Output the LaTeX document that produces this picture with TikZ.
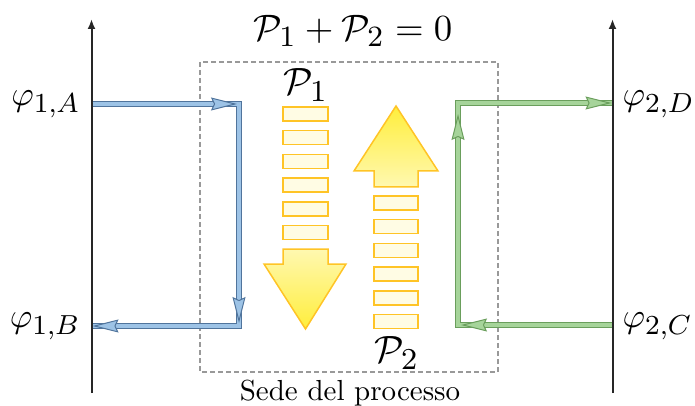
\documentclass[tikz,border=0pt]{standalone}
\usetikzlibrary{arrows.meta}
\DeclareMathSizes{10}{10}{8}{6}
\definecolor{bfill}{HTML}{9DC3E6}
\definecolor{bdark}{HTML}{50749C}
\definecolor{gfill}{HTML}{A6D49A}
\definecolor{gdark}{HTML}{6A9E5C}
\definecolor{yedge}{HTML}{FFC426}
\definecolor{ybar}{HTML}{FFFCE4}
\definecolor{ystrong}{HTML}{FFEE3C}
\definecolor{ylight}{HTML}{FFF8B0}
\begin{document}
\begin{tikzpicture}[x=0.5pt,y=-0.5pt,
  axis/.style={draw=black!85, line width=1pt, -{Latex[length=5pt,width=4pt]}},
  lineblue/.style={draw=bdark, line width=0.5pt, double=bfill, double distance=1.6pt, line join=miter},
  linegreen/.style={draw=gdark, line width=0.5pt, double=gfill, double distance=1.6pt, line join=miter},
  tipblue/.style={draw=bdark, line width=0.5pt, double=bfill, double distance=1.6pt,
    -{Stealth[length=13pt,width=6.5pt,inset=1.5pt,fill=bfill,line width=0.5pt]}},
  tipgreen/.style={draw=gdark, line width=0.5pt, double=gfill, double distance=1.6pt,
    -{Stealth[length=13pt,width=6.5pt,inset=1.5pt,fill=gfill,line width=0.5pt]}},
  bar/.style={draw=yedge, line width=0.75pt, fill=ybar},
  yarrow/.style={draw=yedge, line width=0.75pt, line join=miter},
  lab/.style={inner sep=0pt, scale=1.72},
  plab/.style={inner sep=0pt, scale=1.9}
]
\useasboundingbox (0,0) rectangle (695,406);

% process box
\draw[draw=black!40, line width=0.6pt, dash pattern=on 2.5pt off 1.5pt] (200,62) rectangle (498,372);

% axes
\coordinate (Lbot) at (91.5,393);
\coordinate (Ltop) at (91.5,19);
\coordinate (Rbot) at (612.5,393);
\coordinate (Rtop) at (612.5,19);
\draw[axis] (Lbot) -- (Ltop);
\draw[axis] (Rbot) -- (Rtop);

% blue flow
\coordinate (A1) at (92.5,104);
\coordinate (c1) at (239,104);
\coordinate (c2) at (239,326);
\coordinate (B1) at (92.5,326);
\coordinate (tA) at (205,104);
\coordinate (tAe) at (237,104);
\coordinate (tV) at (239,290);
\coordinate (tVe) at (239,323);
\coordinate (tB) at (125,326);
\draw[lineblue] (A1) -- (c1) -- (c2) -- (B1);
\draw[tipblue] (tA) -- (tAe);
\draw[tipblue] (tV) -- (tVe);
\draw[tipblue] (tB) -- (B1);

% green flow
\coordinate (C2) at (611.5,325);
\coordinate (c3) at (458,325);
\coordinate (c4) at (458,103);
\coordinate (D2) at (611.5,103);
\coordinate (tC) at (495,325);
\coordinate (tCe) at (461,325);
\coordinate (tU) at (458,150);
\coordinate (tUe) at (458,114);
\coordinate (tD) at (575,103);
\draw[linegreen] (C2) -- (c3) -- (c4) -- (D2);
\draw[tipgreen] (tC) -- (tCe);
\draw[tipgreen] (tU) -- (tUe);
\draw[tipgreen] (tD) -- (D2);

% yellow arrow P1 (down)
\foreach \k in {0,...,5} {
  \draw[bar] (283,{107+23.7*\k}) rectangle (328,{121+23.7*\k});
}
\shade[top color=ylight, bottom color=ystrong]
  (283,249) -- (328,249) -- (328,264) -- (346,264) -- (305.5,329) -- (264,264) -- (283,264) -- cycle;
\draw[yarrow]
  (283,249) -- (328,249) -- (328,264) -- (346,264) -- (305.5,329) -- (264,264) -- (283,264) -- cycle;

% yellow arrow P2 (up)
\foreach \k in {0,...,5} {
  \draw[bar] (374,{196+23.7*\k}) rectangle (418,{210+23.7*\k});
}
\shade[top color=ystrong, bottom color=ylight]
  (396,106) -- (438,171) -- (418,171) -- (418,187) -- (374,187) -- (374,171) -- (354,171) -- cycle;
\draw[yarrow]
  (396,106) -- (438,171) -- (418,171) -- (418,187) -- (374,187) -- (374,171) -- (354,171) -- cycle;

% labels
\node[lab, anchor=east] (phiA) at (81,104) {$\varphi_{1,A}$};
\node[lab, anchor=east] (phiB) at (81,326) {$\varphi_{1,B}$};
\node[lab, anchor=west] (phiD) at (622,104) {$\varphi_{2,D}$};
\node[lab, anchor=west] (phiC) at (622,326) {$\varphi_{2,C}$};
\node[plab] (P1) at (306,85) {$\mathcal{P}_1$};
\node[plab] (P2) at (397,353) {$\mathcal{P}_2$};
\node[inner sep=0pt, scale=1.84] (title) at (353,31) {$\mathcal{P}_1+\mathcal{P}_2=0$};
\node[inner sep=0pt, scale=1.45] (sede) at (350,393) {Sede del processo};
\end{tikzpicture}
\end{document}
